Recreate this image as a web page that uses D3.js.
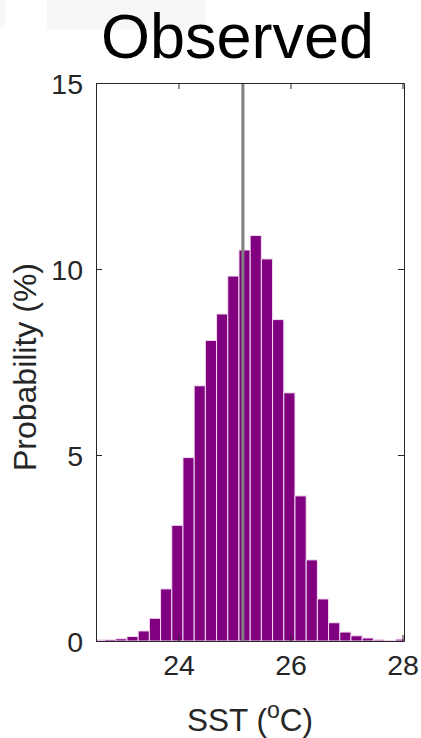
<!DOCTYPE html>
<html>
<head>
<meta charset="utf-8">
<script src="https://cdn.jsdelivr.net/npm/d3@7"></script>
<style>
  html, body { margin: 0; padding: 0; background: #ffffff; }
  svg { display: block; }
  text { font-family: "Liberation Sans", Arial, Helvetica, sans-serif; }
</style>
</head>
<body>
<div id="chart"></div>
<script>
// ---- data ----
const titleText = "Observed";
const binLeftEdges = [22.48, 22.68, 22.88, 23.08, 23.28, 23.48, 23.68, 23.88, 24.08, 24.28,
                      24.48, 24.68, 24.88, 25.08, 25.28, 25.48, 25.68, 25.88, 26.08, 26.28,
                      26.48, 26.68, 26.88, 27.08, 27.28, 27.48, 27.68, 27.88];
const binWidth = 0.2;
const probability = [0.03, 0.04, 0.06, 0.12, 0.27, 0.61, 1.40, 3.11, 4.93, 6.86,
                     8.08, 8.79, 9.81, 10.51, 10.90, 10.27, 8.64, 6.67, 3.90, 2.18,
                     1.13, 0.49, 0.24, 0.14, 0.08, 0.035, 0.01, 0.05];
const observedMean = 25.15;
const xTicks = [24, 26, 28];
const yTicks = [0, 5, 10, 15];
const xDomain = [22.527, 28.027];
const yDomain = [0, 15];

// ---- layout ----
const W = 421, H = 738;
const mLeft = 96, mRight = 404, mTop = 83, mBottom = 641;
const axisColor = "#262626";

const svg = d3.select("#chart").append("svg")
  .attr("width", W).attr("height", H);

// faint background patches at the top-left
svg.append("rect").attr("x", 47).attr("y", 0).attr("width", 158).attr("height", 30).attr("fill", "#f7f7f7");
svg.append("rect").attr("x", 0).attr("y", 0).attr("width", 5).attr("height", 27).attr("fill", "#f7f7f7");

const x = d3.scaleLinear().domain(xDomain).range([mLeft, mRight]);
const y = d3.scaleLinear().domain(yDomain).range([mBottom, mTop]);

svg.append("clipPath").attr("id", "plotclip")
  .append("rect").attr("x", mLeft).attr("y", mTop).attr("width", mRight - mLeft).attr("height", mBottom - mTop);

const plot = svg.append("g").attr("clip-path", "url(#plotclip)");

const bars = binLeftEdges.map((e, i) => ({ x0: e, x1: e + binWidth, v: probability[i] }));

plot.selectAll("rect.bar").data(bars).enter().append("rect")
  .attr("class", "bar")
  .attr("x", d => x(d.x0))
  .attr("width", d => x(d.x1) - x(d.x0))
  .attr("y", d => y(d.v))
  .attr("height", d => y(0) - y(d.v))
  .attr("fill", "#800080")
  .attr("stroke", "#f0dcf0")
  .attr("stroke-width", 1);

// observed mean line
plot.append("line")
  .attr("x1", x(observedMean)).attr("x2", x(observedMean))
  .attr("y1", mTop).attr("y2", mBottom)
  .attr("stroke", "#808080").attr("stroke-width", 3);

// box
const tickLen = 6;
const axB = d3.axisBottom(x).tickValues(xTicks).tickFormat(d3.format("d")).tickSizeInner(-tickLen).tickSizeOuter(0).tickPadding(14);
const axL = d3.axisLeft(y).tickValues(yTicks).tickFormat(d3.format("d")).tickSizeInner(-tickLen).tickSizeOuter(0).tickPadding(13);
const axT = d3.axisTop(x).tickValues(xTicks).tickFormat("").tickSizeInner(-tickLen).tickSizeOuter(0);
const axR = d3.axisRight(y).tickValues(yTicks).tickFormat("").tickSizeInner(-tickLen).tickSizeOuter(0);

function styleAxis(g) {
  g.select(".domain").attr("stroke", axisColor).attr("stroke-width", 1);
  g.selectAll(".tick line").attr("stroke", axisColor).attr("stroke-width", 1);
  g.selectAll(".tick text").attr("fill", axisColor).style("font-size", "28.5px")
    .style("font-family", '"Liberation Sans", Arial, sans-serif');
}

const gB = svg.append("g").attr("transform", `translate(0,${mBottom})`).call(axB).call(styleAxis);
gB.selectAll(".tick text").attr("dy", "0.71em");
const gL = svg.append("g").attr("transform", `translate(${mLeft},0)`).call(axL).call(styleAxis);
gL.selectAll(".tick text").attr("dy", "0.36em");
svg.append("g").attr("transform", `translate(0,${mTop})`).call(axT).call(styleAxis);
svg.append("g").attr("transform", `translate(${mRight},0)`).call(axR).call(styleAxis);

// title
svg.append("text")
  .attr("x", 237.5).attr("y", 58)
  .attr("text-anchor", "middle")
  .attr("fill", "#000000")
  .style("font-size", "63px")
  .text(titleText);

// x label
const xl = svg.append("text")
  .attr("x", (mLeft + mRight) / 2).attr("y", 731)
  .attr("text-anchor", "middle")
  .attr("fill", axisColor)
  .style("font-size", "31.5px");
xl.append("tspan").text("SST (");
xl.append("tspan").attr("dy", -13).style("font-size", "23px").text("o");
xl.append("tspan").attr("dy", 13).text("C)");

// y label
svg.append("text")
  .attr("transform", `translate(36,${367}) rotate(-90)`)
  .attr("text-anchor", "middle")
  .attr("fill", axisColor)
  .style("font-size", "32px")
  .text("Probability (%)");
</script>
</body>
</html>
